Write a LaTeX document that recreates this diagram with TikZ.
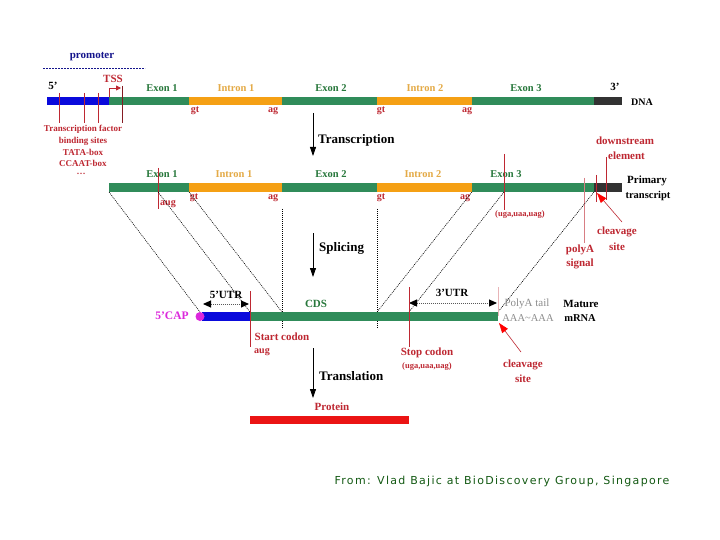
\documentclass[tikz,border=0pt]{standalone}
\usepackage{fontspec}
\setmainfont{Liberation Serif}
\newfontfamily\creditfont[LetterSpace=12]{DejaVu Sans}
\usetikzlibrary{arrows.meta}
\definecolor{exong}{RGB}{48,140,90}
\definecolor{intronc}{RGB}{245,160,20}
\definecolor{dnablue}{RGB}{10,10,220}
\definecolor{darkbar}{RGB}{50,50,50}
\definecolor{labred}{RGB}{190,40,50}
\definecolor{exont}{RGB}{40,120,60}
\definecolor{intront}{RGB}{228,170,70}
\definecolor{capmag}{RGB}{220,40,220}
\definecolor{creditg}{RGB}{20,90,20}
\definecolor{protred}{RGB}{235,20,20}
\definecolor{promblue}{RGB}{20,20,140}
\definecolor{tailgray}{RGB}{140,140,140}
\tikzset{
  txt/.style={inner sep=0pt, font=\bfseries\fontsize{10.5}{12}\selectfont},
  exlbl/.style={txt, text=exont},
  inlbl/.style={txt, text=intront},
  redlbl/.style={txt, text=labred, font=\bfseries\fontsize{11}{12}\selectfont},
  tflbl/.style={txt, text=labred, font=\bfseries\fontsize{9}{10}\selectfont},
  sitelbl/.style={txt, text=labred, font=\bfseries\fontsize{10}{11}\selectfont},
  smallred/.style={txt, text=labred, font=\bfseries\fontsize{8.5}{9}\selectfont},
  blklbl/.style={txt, text=black, font=\bfseries\fontsize{11}{12}\selectfont},
  biglbl/.style={txt, text=black, font=\bfseries\fontsize{13}{14}\selectfont},
  marker/.style={labred, line width=0.7pt},
  dotline/.style={black, line width=0.6pt, dash pattern=on 1pt off 1pt},
  bigarrow/.style={black, line width=0.8pt, -{Triangle[length=9pt,width=6pt]}},
  utr/.style={gray!70!black, line width=1pt, dash pattern=on 1pt off 1pt, {Triangle[length=8pt,width=7pt,color=black]}-{Triangle[length=8pt,width=7pt,color=black]}},
  cleav/.style={labred, line width=0.6pt, -{Triangle[length=10pt,width=7pt,color=red]}},
}
\begin{document}
\begin{tikzpicture}[x=1pt,y=-1pt]
\useasboundingbox[fill=white] (0,0) rectangle (720,540);

% ---------------- DNA ----------------
\node[txt, text=promblue, font=\bfseries\fontsize{11}{12}\selectfont] (prom) at (92,57) {promoter};
\draw[promblue, line width=0.8pt, dash pattern=on 2pt off 1pt] (43,68) -- (145,68);
\node[blklbl] (five) at (53,86) {5'};
\fill[dnablue] (47,97) rectangle (109,105);
\fill[exong] (109,97) rectangle (189,105);
\fill[intronc] (189,97) rectangle (282,105);
\fill[exong] (282,97) rectangle (377,105);
\fill[intronc] (377,97) rectangle (472,105);
\fill[exong] (472,97) rectangle (594,105);
\fill[darkbar] (594,97) rectangle (622,105);

\node[exlbl] (e1) at (162,88) {Exon 1};
\node[inlbl] (i1) at (236,88) {Intron 1};
\node[exlbl] (e2) at (331,88) {Exon 2};
\node[inlbl] (i2) at (425,88) {Intron 2};
\node[exlbl] (e3) at (526,88) {Exon 3};
\node[blklbl] (three) at (615,87) {3'};
\node[blklbl, font=\bfseries\fontsize{10}{11}\selectfont] (dna) at (642,102) {DNA};

\node[txt, text=labred, font=\bfseries\fontsize{11}{12}\selectfont] (tss) at (113,79) {TSS};
\coordinate (tssA) at (109,97);
\coordinate (tssB) at (109,88);
\coordinate (tssC) at (121,88);
\draw[labred, line width=0.8pt, -{Triangle[length=5pt,width=5pt]}] (tssA) -- (tssB) -- (tssC);

\foreach \x in {59,84,98}{\draw[marker] (\x,93) -- (\x,123);}
\draw[marker, color=labred!70!black] (122,86) -- (122,123);

\node[tflbl] (tf1) at (83,129) {Transcription factor};
\node[tflbl] (tf2) at (83,141) {binding sites};
\node[tflbl] (tf3) at (83,152) {TATA-box};
\node[tflbl] (tf4) at (83,163) {CCAAT-box};
\node[tflbl] (tf5) at (81,174) {\dots};

\node[sitelbl] (gt1) at (195,111) {gt};
\node[sitelbl] (ag1) at (273,111) {ag};
\node[sitelbl] (gt2) at (381,111) {gt};
\node[sitelbl] (ag2) at (467,111) {ag};

\coordinate (tr1) at (313,113);
\coordinate (tr2) at (313,156);
\draw[bigarrow] (tr1) -- (tr2);
\node[biglbl, anchor=west] (trans) at (318,140) {Transcription};

% ---------------- Primary transcript ----------------
\fill[exong] (109,183) rectangle (189,192);
\fill[intronc] (189,183) rectangle (282,192);
\fill[exong] (282,183) rectangle (377,192);
\fill[intronc] (377,183) rectangle (472,192);
\fill[exong] (472,183) rectangle (594,192);
\fill[darkbar] (594,183) rectangle (622,192);

\node[exlbl] (pe1) at (162,174) {Exon 1};
\node[inlbl] (pi1) at (234,174) {Intron 1};
\node[exlbl] (pe2) at (331,174) {Exon 2};
\node[inlbl] (pi2) at (423,174) {Intron 2};
\node[exlbl] (pe3) at (506,174) {Exon 3};
\node[blklbl] (prim1) at (647,181) {Primary};
\node[blklbl, font=\bfseries\fontsize{10.5}{12}\selectfont] (prim2) at (648,196) {transcript};

\draw[marker] (158,168) -- (158,209);
\node[sitelbl] (aug1) at (168,204) {aug};
\node[sitelbl] (pgt1) at (194,198) {gt};
\node[sitelbl] (pag1) at (273,198) {ag};
\node[sitelbl] (pgt2) at (381,198) {gt};
\node[sitelbl] (pag2) at (465,198) {ag};

\draw[marker] (504,154) -- (504,210);
\node[smallred] (stopc1) at (520,214) {(uga,uaa,uag)};
\draw[marker, labred!60] (584,178) -- (584,243);
\draw[marker] (596,175) -- (596,202);
\draw[marker] (606,157) -- (606,200);
\node[redlbl] (down1) at (625,141) {downstream};
\node[redlbl, anchor=west] (down2) at (608,156) {element};

\node[redlbl] (pas1) at (580,250) {polyA};
\node[redlbl] (pas2) at (580,264) {signal};
\node[redlbl] (cl1) at (617,232) {cleavage};
\node[redlbl] (cl2) at (617,247) {site};
\coordinate (clA) at (622,222);
\coordinate (clB) at (597,193);
\draw[cleav] (clA) -- (clB);

% ---------------- Splicing connectors ----------------
\coordinate (p1) at (109,192);
\coordinate (p2) at (158,192);
\coordinate (p3) at (189,192);
\coordinate (p4) at (472,192);
\coordinate (p5) at (504,192);
\coordinate (p6) at (594,192);
\coordinate (m1) at (200,312);
\coordinate (m2) at (250,312);
\coordinate (m3) at (282,312);
\coordinate (m4) at (377,312);
\coordinate (m5) at (409,312);
\coordinate (m6) at (498,312);
\draw[dotline] (p1) -- (m1);
\draw[dotline] (p2) -- (m2);
\draw[dotline] (p3) -- (m3);
\draw[dotline] (p4) -- (m4);
\draw[dotline] (p5) -- (m5);
\draw[dotline] (p6) -- (m6);
\coordinate (v1a) at (282,209);
\coordinate (v1b) at (282,329);
\coordinate (v2a) at (377,209);
\coordinate (v2b) at (377,329);
\draw[dotline] (v1a) -- (v1b);
\draw[dotline] (v2a) -- (v2b);

\coordinate (sp1) at (313,233);
\coordinate (sp2) at (313,277);
\draw[bigarrow] (sp1) -- (sp2);
\node[biglbl, anchor=west] (splice) at (319,248) {Splicing};

% ---------------- Mature mRNA ----------------
\fill[dnablue] (202,312) rectangle (250,321);
\fill[exong] (250,312) rectangle (498,321);
\fill[capmag] (200,316.5) circle (4.5);
\node[txt, text=capmag, font=\bfseries\fontsize{11.5}{12}\selectfont] (cap) at (172,316) {5'CAP};
\node[exlbl, font=\bfseries\fontsize{11}{12}\selectfont] (cds) at (316,304) {CDS};

\coordinate (u5a) at (203,304);
\coordinate (u5b) at (249,304);
\draw[utr] (u5a) -- (u5b);
\node[blklbl] (utr5) at (226,295) {5'UTR};
\draw[marker] (250,291) -- (250,347);
\node[redlbl] (start1) at (282,337) {Start codon};
\node[sitelbl, anchor=west] (start2) at (254,352) {aug};

\coordinate (u3a) at (409,303);
\coordinate (u3b) at (497,303);
\draw[utr] (u3a) -- (u3b);
\node[blklbl] (utr3) at (452,293) {3'UTR};
\draw[marker] (409,287) -- (409,347);
\draw[labred!35, line width=0.7pt] (498,287) -- (498,316);
\node[redlbl] (stop1) at (427,353) {Stop codon};
\node[smallred] (stop2) at (427,366) {(uga,uaa,uag)};

\node[txt, text=tailgray, font=\fontsize{11}{12}\selectfont] (tail1) at (527,304) {PolyA tail};
\node[txt, text=tailgray, font=\fontsize{10.5}{12}\selectfont] (tail2) at (528,318) {AAA\textasciitilde AAA};
\node[blklbl] (mat1) at (581,304) {Mature};
\node[blklbl, font=\bfseries\fontsize{10.5}{12}\selectfont] (mat2) at (580,318) {mRNA};

\coordinate (cl2A) at (521,352);
\coordinate (cl2B) at (499,323);
\draw[cleav] (cl2A) -- (cl2B);
\node[redlbl] (cl3) at (523,365) {cleavage};
\node[redlbl] (cl4) at (523,379) {site};

% ---------------- Translation ----------------
\coordinate (tl1) at (313,348);
\coordinate (tl2) at (313,398);
\draw[bigarrow] (tl1) -- (tl2);
\node[biglbl, anchor=west] (transl) at (319,376) {Translation};
\node[redlbl] (prot) at (332,407) {Protein};
\fill[protred] (250,416) rectangle (409,424);

% ---------------- Credit ----------------
\node[inner sep=0pt, text=creditg, font=\creditfont\fontsize{11}{12}\selectfont] (credit) at (502,481) {From: Vlad Bajic at BioDiscovery Group, Singapore};
\end{tikzpicture}
\end{document}
